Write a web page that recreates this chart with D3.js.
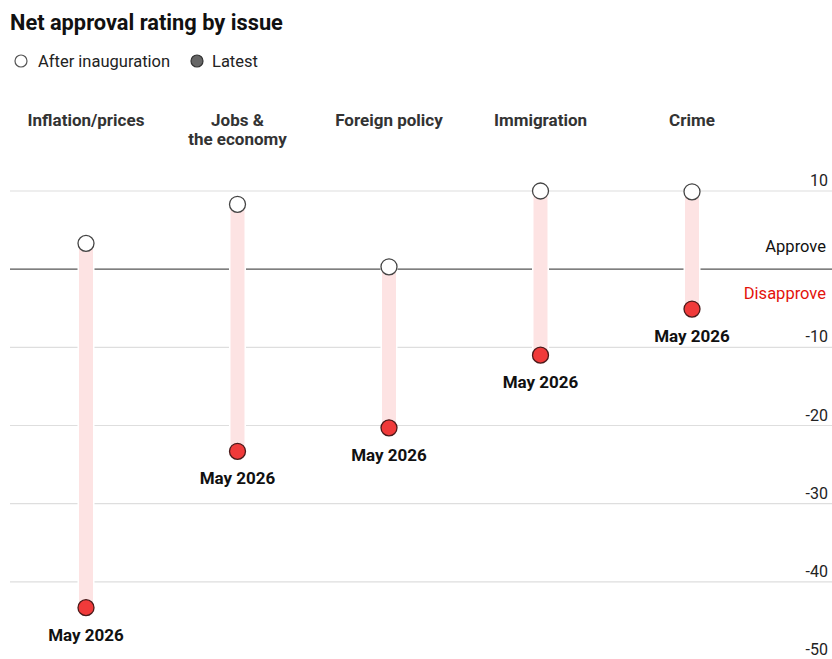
<!DOCTYPE html>
<html>
<head>
<meta charset="utf-8">
<script src="https://cdn.jsdelivr.net/npm/d3@7"></script>
<style>
  body { margin: 0; background: #fff; }
  svg { display: block; font-family: Roboto, "Noto Sans", sans-serif; }
</style>
</head>
<body>
<svg id="chart" width="832" height="659"></svg>
<script>
// Net approval by issue: value just after inauguration vs latest reading
const issues = ["Inflation/prices", "Jobs &\nthe economy", "Foreign policy", "Immigration", "Crime"];
const afterInauguration = [3.3, 8.3, 0.3, 10.0, 9.9];
const latest = [-43.3, -23.3, -20.3, -11.0, -5.1];
const latestLabel = "May 2026";
const yTicks = [10, -10, -20, -30, -40, -50];

const svg = d3.select("#chart");
const W = 832, H = 659;

const x = d3.scalePoint().domain(issues).range([86, 692]);
const y = d3.scaleLinear().domain([-50, 10]).range([660, 191]);

// Title
svg.append("text").attr("x", 10).attr("y", 30)
  .attr("font-size", 21.8).attr("font-weight", 700).attr("fill", "#111")
  .text("Net approval rating by issue");

// Legend
const leg = svg.append("g").attr("font-size", 16.5).attr("fill", "#222");
leg.append("circle").attr("cx", 21).attr("cy", 61).attr("r", 6)
  .attr("fill", "#fff").attr("stroke", "#555").attr("stroke-width", 1.2);
leg.append("text").attr("x", 38).attr("y", 67).text("After inauguration");
leg.append("circle").attr("cx", 197).attr("cy", 61).attr("r", 6)
  .attr("fill", "#666").attr("stroke", "#333").attr("stroke-width", 1.2);
leg.append("text").attr("x", 212).attr("y", 67).text("Latest");

// Gridlines and right-hand tick labels
const grid = svg.append("g");
grid.selectAll("line").data(yTicks).join("line")
  .attr("x1", 10).attr("x2", W)
  .attr("y1", d => y(d)).attr("y2", d => y(d))
  .attr("stroke", "#dedede").attr("stroke-width", 1.2);
grid.selectAll("text").data(yTicks).join("text")
  .attr("x", 828).attr("y", d => y(d) - 5)
  .attr("text-anchor", "end").attr("font-size", 16).attr("fill", "#222")
  .text(d => d);

// Zero line with Approve / Disapprove labels
svg.append("line").attr("x1", 10).attr("x2", W)
  .attr("y1", y(0)).attr("y2", y(0))
  .attr("stroke", "#555").attr("stroke-width", 1.3);
svg.append("text").attr("x", 826).attr("y", y(0) - 17)
  .attr("text-anchor", "end").attr("font-size", 16.5).attr("fill", "#111")
  .text("Approve");
svg.append("text").attr("x", 826).attr("y", y(0) + 30)
  .attr("text-anchor", "end").attr("font-size", 16.5).attr("fill", "#e3120b")
  .text("Disapprove");

// Category headers
const heads = svg.append("g").attr("font-size", 17).attr("font-weight", 700)
  .attr("fill", "#333").attr("text-anchor", "middle");
issues.forEach(name => {
  const t = heads.append("text").attr("x", x(name)).attr("y", 126);
  name.split("\n").forEach((line, i) => {
    t.append("tspan").attr("x", x(name)).attr("dy", i ? 19 : 0).text(line);
  });
});

// Range bars from after-inauguration value to latest value
const rows = issues.map((name, i) => ({ name, a: afterInauguration[i], b: latest[i] }));
svg.append("g").selectAll("rect").data(rows).join("rect")
  .attr("x", d => x(d.name) - 7)
  .attr("width", 14)
  .attr("y", d => y(Math.max(d.a, d.b)))
  .attr("height", d => Math.abs(y(d.a) - y(d.b)))
  .attr("fill", "#fde3e3")
  .attr("stroke", "#fff").attr("stroke-width", 3)
  .attr("paint-order", "stroke");

// Points
svg.append("g").selectAll("circle").data(rows).join("circle")
  .attr("cx", d => x(d.name)).attr("cy", d => y(d.a)).attr("r", 8)
  .attr("fill", "#fff").attr("stroke", "#444").attr("stroke-width", 1.3);
svg.append("g").selectAll("circle").data(rows).join("circle")
  .attr("cx", d => x(d.name)).attr("cy", d => y(d.b)).attr("r", 8)
  .attr("fill", "#f03a3a").attr("stroke", "#4a1a1a").attr("stroke-width", 1.3);

// Date labels under the latest points
svg.append("g").selectAll("text").data(rows).join("text")
  .attr("x", d => x(d.name)).attr("y", d => y(d.b) + 33)
  .attr("text-anchor", "middle").attr("font-size", 17).attr("font-weight", 700)
  .attr("fill", "#111")
  .text(latestLabel);
</script>
</body>
</html>
